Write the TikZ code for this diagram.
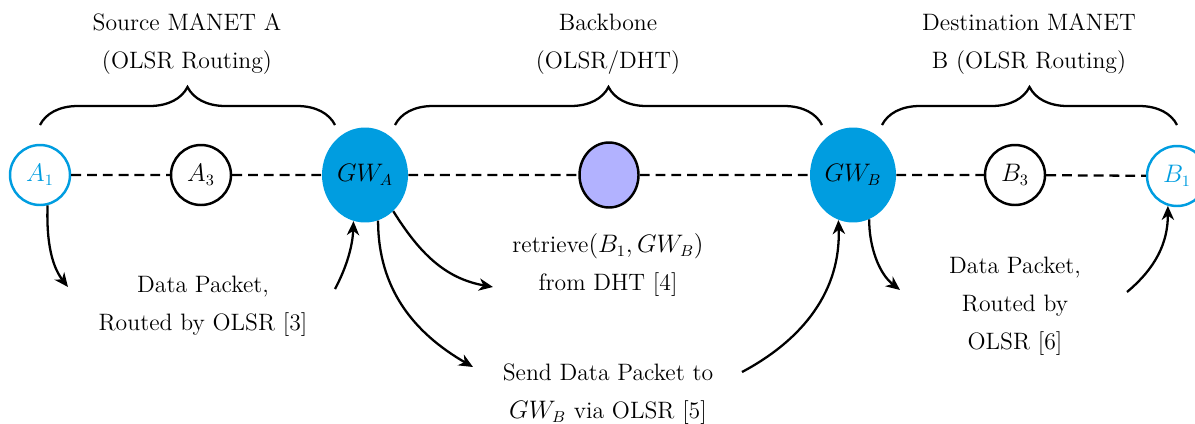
\documentclass[tikz,border=0pt]{standalone}
\usepackage{tikz}
\usetikzlibrary{shapes.geometric, arrows.meta, decorations.pathreplacing}
\definecolor{gwBlue}{RGB}{0,157,224}
\definecolor{bbLavender}{RGB}{178,178,255}
\tikzstyle{endpoint} = [circle, draw=gwBlue, text=gwBlue, line width=1.4pt, minimum size=1.2cm, inner sep=0pt]
\tikzstyle{relay} = [circle, draw, line width=1.4pt, minimum size=1.2cm, inner sep=0pt]
\tikzstyle{gateway} = [ellipse, fill=gwBlue, minimum width=1.72cm, minimum height=1.9cm, inner sep=0pt]
\tikzstyle{backbone} = [ellipse, draw, fill=bbLavender, line width=1.4pt, minimum width=1.18cm, minimum height=1.3cm]
\tikzstyle{textLabel} = [align=center]
\tikzstyle{wireless} = [draw, line width=1.3pt, dash pattern=on 5.6pt off 3.4pt]
\tikzstyle{region} = [draw, line width=1.3pt, decorate, decoration={brace, amplitude=0.76cm}]
\tikzstyle{connector} = [draw, line width=1.3pt, -{Stealth[length=8pt,width=7pt,inset=2.5pt]}]

\begin{document}
\begin{tikzpicture}[x=0.02cm, y=-0.02cm, font=\fontsize{13.5}{21.6}\selectfont]

\useasboundingbox (0,0) rectangle (1195,423);

\node[endpoint] at (40,175) (A1) {$A_1$};
\node[relay] at (201,175) (A3) {$A_3$};
\node[gateway] at (365,175) (GWA) {$GW_A$};
\node[backbone] at (609,175) (bbNode) {};
\node[gateway] at (853,175) (GWB) {$GW_B$};
\node[relay] at (1015,175) (B3) {$B_3$};
\node[endpoint] at (1177,176) (B1) {$B_1$};

\path [wireless] (A1) -- (A3) -- (GWA) -- (bbNode) -- (GWB) -- (B3) -- (B1);

% braces over the three segments
\coordinate (srcL) at (40,125);
\coordinate (srcR) at (335,125);
\coordinate (bbL) at (395,125);
\coordinate (bbR) at (822,125);
\coordinate (dstL) at (882,125);
\coordinate (dstR) at (1177,125);

\path [region] (srcL) -- (srcR);
\path [region] (bbL) -- (bbR);
\path [region] (dstL) -- (dstR);

\node[textLabel] at (187,44) (srcLabel) {Source MANET A\\(OLSR Routing)};
\node[textLabel] at (608,44) (bbLabel) {Backbone\\(OLSR/DHT)};
\node[textLabel] at (1029,44) (dstLabel) {Destination MANET\\B (OLSR Routing)};

\node[textLabel] at (203,306) (pktA) {Data Packet,\\Routed by OLSR [3]};
\node[textLabel] at (608,265) (retrieve) {retrieve$(B_1, GW_B)$\\from DHT [4]};
\node[textLabel] at (608,394) (sendPkt) {Send Data Packet to\\$GW_B$ via OLSR [5]};
\node[textLabel] at (1015,306) (pktB) {Data Packet,\\Routed by\\OLSR [6]};

% free ends of the curved arrows
\coordinate (aOut) at (68,287);
\coordinate (aIn) at (335,289);
\coordinate (rOut) at (493,287);
\coordinate (sOut) at (473,367);
\coordinate (sIn) at (742,372);
\coordinate (bOut) at (900,290);
\coordinate (bIn) at (1127,292);

\path [connector] (A1.-76) to[out=-92, in=128, looseness=0.9] (aOut);
\path [connector] (aIn) to[out=62, in=-92, looseness=0.9] (GWA.-104);
\path [connector] (GWA.-52) to[out=-58, in=170] (rOut);
\path [connector] (GWA.-74) to[out=-90, in=150] (sOut);
\path [connector] (sIn) to[out=28, in=-88] (GWB.-108);
\path [connector] (GWB.-70) to[out=-90, in=142, looseness=0.9] (bOut);
\path [connector] (bIn) to[out=40, in=-90] (B1.-107);

\end{tikzpicture}
\end{document}
